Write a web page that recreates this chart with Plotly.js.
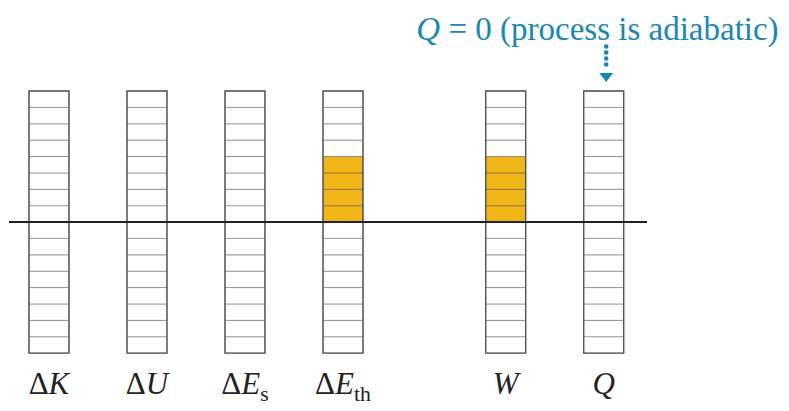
<!DOCTYPE html>
<html>
<head>
<meta charset="utf-8">
<script src="https://cdn.plot.ly/plotly-3.0.1.min.js"></script>
<style>
  html, body { margin: 0; padding: 0; background: #fff; }
  #chart { width: 789px; height: 411px; }
</style>
</head>
<body>
<div id="chart"></div>
<script>
// Energy bar chart: each column holds 8 unit cells above and 8 below the zero line.
const categories = ['ΔK', 'ΔU', 'ΔEs', 'ΔEth', 'W', 'Q'];
const tickLabels = [
  'Δ<i>K</i>',
  'Δ<i>U</i>',
  'Δ<i>E</i><sub>s</sub>',
  'Δ<i>E</i><sub>th</sub>',
  '<i>W</i>',
  '<i>Q</i>'
];
const energyUnits = [0, 0, 0, 4, 4, 0];
const cellsPerSide = 8;
const noteText = '<i>Q</i> = 0 (process is adiabatic)';

// Layout constants
const W = 789, H = 411;
const margin = { l: 9, r: 142, t: 38, b: 53 };
const colWidth = 0.408;          // bar width in slot units
const groupGap = 0.66;           // extra space before the W and Q columns
const unitPx = 16.38;            // pixel height of one cell
const slotPx = 98;               // pixel width of one column slot
const yBottom = -cellsPerSide - 0.3;
const gold = '#f1b518';
const blue = '#1a87b3';

const xPos = categories.map((c, i) => i + (i >= 4 ? groupGap : 0));
const plotH = H - margin.t - margin.b;
const yTop = yBottom + plotH / unitPx;

// One bar per unit cell
const cx = [], cbase = [], cy = [], ccol = [];
categories.forEach((c, i) => {
  const v = energyUnits[i];
  for (let k = -cellsPerSide; k < cellsPerSide; k++) {
    const filled = (v > 0 && k >= 0 && k < v) || (v < 0 && k < 0 && k >= v);
    cx.push(xPos[i]);
    cbase.push(k);
    cy.push(1);
    ccol.push(filled ? gold : '#ffffff');
  }
});

const cells = {
  type: 'bar',
  x: cx, y: cy, base: cbase,
  width: colWidth,
  marker: { color: ccol, line: { color: 'rgba(70,70,70,0.45)', width: 1 } },
  hoverinfo: 'skip',
  showlegend: false
};

// Dark outline around each full column
const outlines = {
  type: 'bar',
  x: xPos,
  y: xPos.map(() => 2 * cellsPerSide),
  base: xPos.map(() => -cellsPerSide),
  width: colWidth,
  marker: { color: 'rgba(0,0,0,0)', line: { color: '#555555', width: 1.4 } },
  hoverinfo: 'skip',
  showlegend: false
};

// Dotted arrow pointing down at the Q column
const qx = xPos[5] + 2.5 / slotPx;
const dotOffsets = [44.5, 38.5, 32.5, 26.5];
const dots = {
  type: 'scatter', mode: 'markers',
  x: dotOffsets.map(() => qx),
  y: dotOffsets.map(p => cellsPerSide + p / unitPx),
  marker: { color: blue, size: 4.6, line: { width: 0 } },
  hoverinfo: 'skip', showlegend: false
};
const head = {
  type: 'scatter', mode: 'markers',
  x: [qx], y: [cellsPerSide + 15 / unitPx],
  marker: { color: blue, size: 12, symbol: 'triangle-down', line: { width: 0 } },
  hoverinfo: 'skip', showlegend: false
};

const layout = {
  width: W, height: H,
  margin: margin,
  paper_bgcolor: '#ffffff',
  plot_bgcolor: '#ffffff',
  barmode: 'overlay',
  font: { family: 'Liberation Serif, serif', color: '#222222' },
  title: {
    text: noteText,
    xref: 'paper', x: 0.9224, xanchor: 'center',
    yref: 'container', y: 1 - 28 / H, yanchor: 'middle',
    font: { family: 'Liberation Serif, serif', size: 33, color: blue }
  },
  xaxis: {
    range: [-colWidth, 6.102],
    tickmode: 'array', tickvals: xPos, ticktext: tickLabels,
    tickfont: { size: 31, color: '#222222' },
    ticks: '', showgrid: false, zeroline: false, showline: false,
    ticklabelstandoff: 4,
    fixedrange: true
  },
  yaxis: {
    range: [yBottom, yTop],
    showticklabels: false, ticks: '', showgrid: false,
    zeroline: false, showline: false, fixedrange: true
  },
  shapes: [{
    type: 'line', layer: 'above',
    xref: 'paper', x0: 0, x1: 1, yref: 'y', y0: 0, y1: 0,
    line: { color: '#222222', width: 2 }
  }]
};

Plotly.newPlot('chart', [cells, outlines, dots, head], layout, { staticPlot: true, displayModeBar: false });
</script>
</body>
</html>
